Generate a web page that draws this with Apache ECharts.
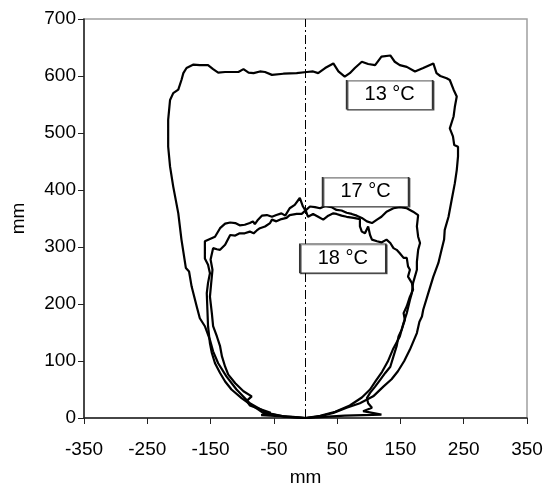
<!DOCTYPE html>
<html>
<head>
<meta charset="utf-8">
<script src="https://cdn.jsdelivr.net/npm/echarts@6/dist/echarts.min.js"></script>
<style>html,body{margin:0;padding:0;background:#fff}#c{width:545px;height:486px}</style>
</head>
<body>
<div id="c"></div>
<script>
// x-axis tick labels (mm) and y-axis range
const xTickLabels = ['-350','-250','-150','-50','50','150','250','350'];
const yTickLabels = ['0','100','200','300','400','500','600','700'];

// Outline at 13 °C  [x mm, y mm]
const curve13 = [[0,0],[-35,3],[-61,9],[-88,26],[-109,50],[-125,73],[-138,96],[-146,117],[-151,137],[-159,161],[-167,175],[-172,196],[-180,231],[-184,257],[-189,263],[-196,313],[-201,359],[-209,406],[-214,441],[-217,476],[-217,523],[-214,558],[-209,570],[-201,576],[-196,593],[-193,605],[-188,614],[-177,620],[-167,619],[-154,619],[-146,612],[-138,606],[-127,607],[-117,607],[-106,607],[-98,612],[-90,606],[-82,605],[-72,608],[-64,607],[-53,602],[-35,604],[-14,605],[2,607],[12,608],[20,605],[31,614],[44,622],[52,608],[62,599],[70,605],[78,614],[89,625],[99,621],[110,619],[120,634],[134,636],[141,625],[149,619],[160,616],[173,608],[186,614],[202,622],[207,605],[213,600],[223,596],[228,593],[234,576],[239,564],[236,546],[234,529],[228,508],[233,494],[235,479],[241,476],[241,459],[239,435],[236,412],[231,383],[226,353],[220,330],[219,313],[215,295],[210,272],[202,248],[194,219],[186,190],[184,178],[180,169],[176,149],[165,120],[156,100],[146,82],[136,68],[123,55],[107,38],[86,26],[65,18],[44,9],[23,3],[0,0]];

// Outline at 17 °C
const curve17 = [[0,0],[-20,2],[-70,5],[-55,9],[-88,22],[-93,30],[-85,38],[-98,47],[-111,61],[-122,76],[-127,90],[-132,108],[-135,126],[-140,143],[-146,161],[-148,184],[-151,213],[-149,237],[-147,260],[-150,278],[-146,298],[-140,296],[-135,295],[-127,304],[-119,321],[-111,320],[-104,324],[-96,324],[-88,327],[-82,324],[-77,329],[-72,333],[-64,336],[-56,342],[-53,348],[-46,345],[-38,349],[-30,351],[-25,356],[-14,358],[-6,358],[2,366],[7,371],[15,370],[23,368],[31,372],[41,370],[49,365],[57,364],[65,360],[73,358],[81,355],[89,351],[97,345],[105,342],[113,348],[120,353],[128,362],[139,368],[149,370],[160,368],[170,362],[178,356],[176,336],[178,318],[181,307],[178,295],[176,274],[176,260],[170,237],[168,219],[165,207],[160,184],[155,167],[149,143],[138,120],[130,99],[121,81],[111,65],[102,50],[89,36],[70,22],[47,11],[23,4],[0,0]];

// Outline at 18 °C
const curve18 = [[0,0],[-30,2],[-67,9],[-75,15],[-90,26],[-101,35],[-117,50],[-127,64],[-135,79],[-143,96],[-148,114],[-151,131],[-154,161],[-155,190],[-156,219],[-154,237],[-151,254],[-154,269],[-159,280],[-159,295],[-159,310],[-151,314],[-143,318],[-135,333],[-127,341],[-119,343],[-111,342],[-104,338],[-96,339],[-88,342],[-83,345],[-80,340],[-75,348],[-69,355],[-61,356],[-53,353],[-46,356],[-38,359],[-32,355],[-25,368],[-17,374],[-9,386],[-4,371],[1,362],[4,353],[12,358],[20,353],[28,348],[36,355],[44,359],[49,358],[57,355],[65,353],[76,351],[86,349],[86,336],[89,327],[94,324],[99,336],[102,321],[105,313],[113,310],[120,308],[128,313],[134,307],[139,298],[144,295],[149,289],[155,281],[160,281],[162,266],[165,260],[162,248],[168,237],[170,225],[165,213],[160,196],[155,184],[157,172],[152,155],[147,143],[144,126],[139,108],[134,90],[126,79],[118,67],[110,55],[102,44],[97,35],[99,26],[105,18],[91,12],[120,6],[62,4],[23,1.5],[0,0]];

// centre line x = 0
const centreLine = [[0,0],[0,700]];

// temperature labels and their positions [x mm, y mm]
const labelTexts = ['13 °C','17 °C','18 °C'];
const labelPos = [[133,567],[95,397],[59,280]];

const X0 = -350; // axis minimum in mm
const shift = pts => pts.map(p => [p[0] - X0, p[1]]);

const font = 'Liberation Sans, Arial, sans-serif';
const lineSeries = (data) => ({
  type: 'line', data: shift(data), showSymbol: false, symbol: 'none', smooth: false,
  lineStyle: { color: '#000', width: 2.2 }, z: 3, silent: true, animation: false
});

const chart = echarts.init(document.getElementById('c'), null, { renderer: 'canvas' });
chart.setOption({
  animation: false,
  backgroundColor: '#fff',
  grid: { left: 84, right: 18, top: 19, bottom: 68, show: true, containLabel: false, outerBoundsMode: 'none',
    borderColor: '#a0a0a0', borderWidth: 1.5, backgroundColor: 'transparent' },
  xAxis: {
    type: 'value', min: 0, max: 700, interval: 100,
    name: 'mm', nameLocation: 'middle', nameGap: 50,
    nameTextStyle: { fontSize: 19, color: '#000', fontFamily: font },
    axisLine: { show: true, onZero: false, lineStyle: { color: '#222', width: 1.5 } },
    axisTick: { show: true, length: 6, lineStyle: { color: '#222', width: 1 } },
    axisLabel: { fontSize: 19, color: '#000', fontFamily: font, margin: 22,
      formatter: v => xTickLabels[Math.round(v / 100)] },
    splitLine: { show: false }
  },
  yAxis: {
    type: 'value', min: 0, max: 700, interval: 100,
    name: 'mm', nameLocation: 'middle', nameGap: 56,
    nameTextStyle: { fontSize: 19, color: '#000', fontFamily: font },
    axisLine: { show: true, onZero: false, lineStyle: { color: '#222', width: 1.5 } },
    axisTick: { show: true, length: 6, lineStyle: { color: '#222', width: 1 } },
    axisLabel: { fontSize: 19, color: '#000', fontFamily: font, margin: 8,
      formatter: v => yTickLabels[Math.round(v / 100)] },
    splitLine: { show: false }
  },
  series: [
    {
      type: 'line', data: shift(centreLine), showSymbol: false, symbol: 'none',
      lineStyle: { color: '#000', width: 1, type: [9, 3, 2, 3] }, z: 2, silent: true
    },
    lineSeries(curve13),
    lineSeries(curve17),
    lineSeries(curve18),
    {
      type: 'scatter', z: 10, silent: true,
      symbol: 'rect', symbolSize: [86, 29],
      itemStyle: { color: '#fff', borderColor: '#333', borderWidth: 1, opacity: 1,
        shadowColor: 'rgba(0,0,0,0.55)', shadowOffsetX: 1, shadowOffsetY: 1, shadowBlur: 0 },
      label: { show: true, position: 'inside', fontSize: 20, color: '#000', fontFamily: font,
        formatter: p => labelTexts[p.dataIndex] },
      data: shift(labelPos)
    }
  ]
});
</script>
</body>
</html>
